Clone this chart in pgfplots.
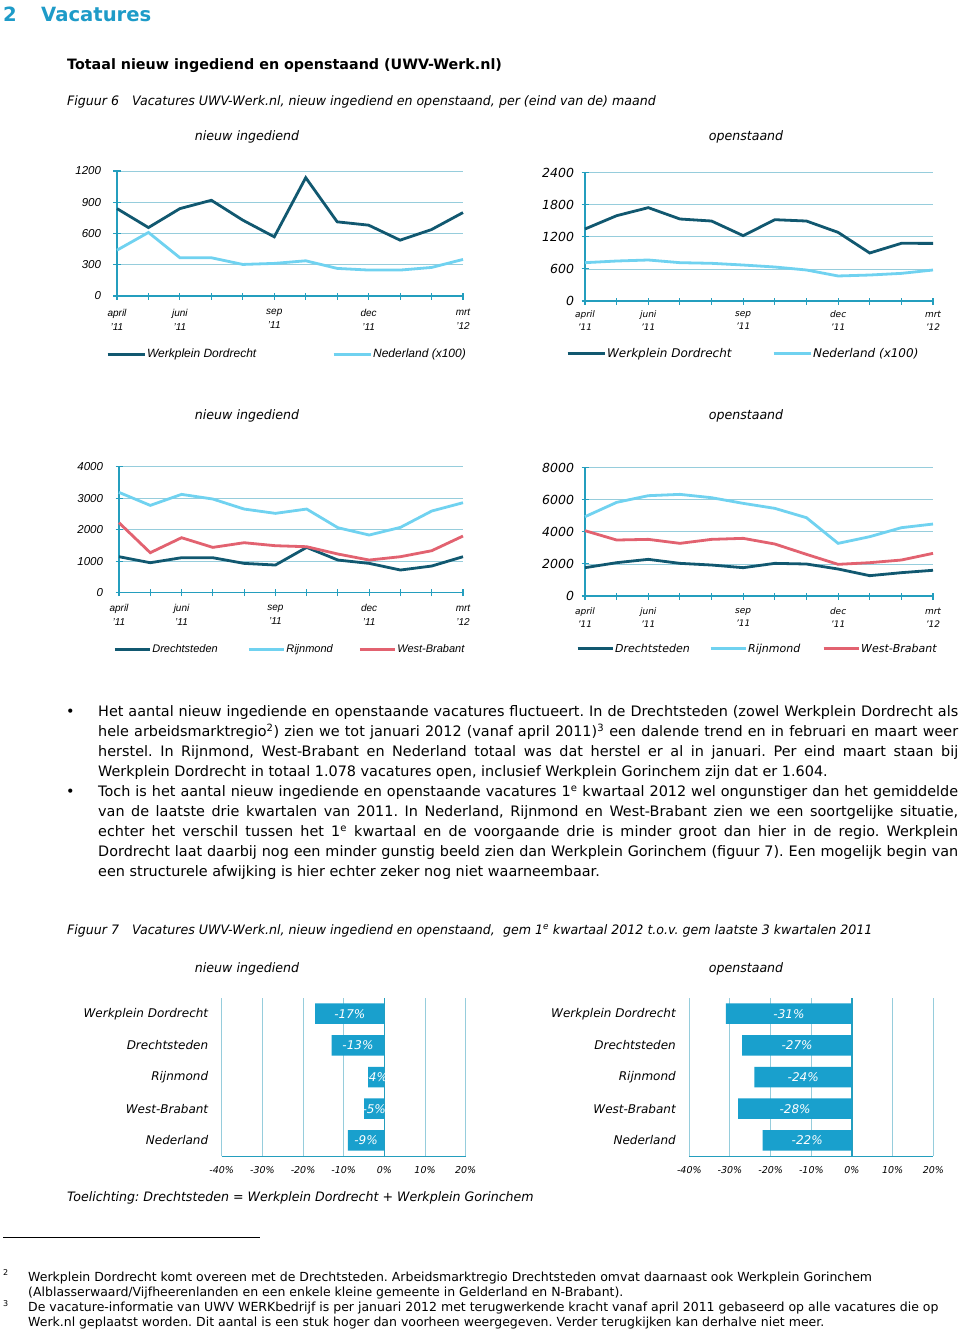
\documentclass[border=0pt]{standalone}
\usepackage{fontspec}
\setmainfont{DejaVu Sans}
\newfontfamily\tahoma[FakeStretch=0.97]{DejaVu Sans}
\newfontfamily\arial{Liberation Sans}
\usepackage{pgfplots}
\pgfplotsset{compat=1.18}
\frenchspacing
\definecolor{dk}{RGB}{17,88,112}
\definecolor{lt}{RGB}{112,210,240}
\definecolor{rd}{RGB}{226,98,112}
\definecolor{axc}{RGB}{36,158,190}
\definecolor{gridc}{RGB}{150,205,220}
\definecolor{barc}{RGB}{25,160,205}
\definecolor{headc}{RGB}{30,155,200}
\pgfplotsset{
 linechart/.style={
  scale only axis, xmin=0, xmax=11, ymin=0, enlargelimits=false,
  axis x line*=bottom, axis y line*=left,
  axis line style={axc, line width=1.3pt},
  xtick={0,...,11},
  tick style={axc, line width=1.1pt}, major tick length=7pt, tick align=center,
  ymajorgrids, grid style={gridc, line width=0.8pt},
  clip=false,
  legend columns=-1,
  legend cell align=left,
  legend image code/.code={\draw[##1, line width=3pt] (0pt,0pt) -- (37pt,0pt);},
 },
 barchart/.style={
  scale only axis, width=244pt, height=158.3pt,
  xmin=-40, xmax=20, ymin=-0.5, ymax=4.5, enlargelimits=false,
  xtick={-40,-30,-20,-10,0,10,20},
  xticklabels={-40\%,-30\%,-20\%,-10\%,0\%,10\%,20\%},
  xticklabel style={font=\itshape\fontsize{9.5}{11}\selectfont, yshift=-7pt},
  ytick={0,1,2,3,4},
  yticklabels={Nederland,West-Brabant,Rijnmond,Drechtsteden,Werkplein Dordrecht},
  yticklabel style={font=\itshape\fontsize{12}{14}\selectfont, xshift=-10pt},
  xmajorgrids, grid style={gridc, line width=1pt},
  axis x line*=bottom, axis y line*=left,
  x axis line style={axc, line width=1.3pt},
  y axis line style={draw=none},
  tick style={draw=none},
  extra x ticks={0}, extra x tick labels={},
  extra x tick style={grid style={axc, line width=1.3pt}},
  clip=false,
 },
}
\tikzset{dkl/.style={dk, line width=2.8pt}, ltl/.style={lt, line width=2.8pt}, rdl/.style={rd, line width=2.8pt}}
\begin{document}
\begin{tikzpicture}
\fill[white] (0pt,0pt) rectangle (960pt,-1330pt);
\path[use as bounding box] (0pt,0pt) rectangle (960pt,-1330pt);

% Titles
\node[anchor=base west, inner sep=0pt, text=headc, font=\bfseries\fontsize{19.6}{21}\selectfont] at (3pt,-21.5pt) {2};
\node[anchor=base west, inner sep=0pt, text=headc, font=\bfseries\fontsize{19.6}{21}\selectfont] at (41pt,-21.5pt) {Vacatures};
\node[anchor=base west, inner sep=0pt, font=\bfseries\fontsize{14.3}{16}\selectfont] at (67pt,-70pt) {Totaal nieuw ingediend en openstaand (UWV-Werk.nl)};
\node[anchor=base west, inner sep=0pt, font=\tahoma\itshape\fontsize{13}{16}\selectfont] at (67pt,-105pt) {Figuur 6};
\node[anchor=base west, inner sep=0pt, font=\tahoma\itshape\fontsize{13}{16}\selectfont] at (132pt,-105pt) {Vacatures UWV-Werk.nl, nieuw ingediend en openstaand, per (eind van de) maand};

\node[anchor=base, inner sep=0pt, font=\tahoma\itshape\fontsize{13}{16}\selectfont] at (247pt,-140pt) {nieuw ingediend};
\node[anchor=base, inner sep=0pt, font=\tahoma\itshape\fontsize{13}{16}\selectfont] at (746pt,-140pt) {openstaand};
\node[anchor=base, inner sep=0pt, font=\tahoma\itshape\fontsize{13}{16}\selectfont] at (247pt,-419pt) {nieuw ingediend};
\node[anchor=base, inner sep=0pt, font=\tahoma\itshape\fontsize{13}{16}\selectfont] at (746pt,-419pt) {openstaand};

% Chart 1
\begin{axis}[linechart, at={(117pt,-296pt)}, anchor=south west, width=346pt, height=125pt,
  ymax=1200, ytick={0,300,600,900,1200}, yticklabels={0,300,600,900,1200},
  yticklabel style={font=\arial\itshape\fontsize{11.5}{12}\selectfont, xshift=-9pt},
  xticklabels={{april\\’11},{},{juni\\’11},{},{},{sep\\’11},{},{},{dec\\’11},{},{},{mrt\\’12}},
  xticklabel style={font=\arial\itshape\fontsize{10}{14}\selectfont, align=center, yshift=-6pt},
  legend style={at={(-0.032,-0.464)}, anchor=west, draw=none, fill=none, inner sep=0pt, column sep=0pt,
    nodes={inner sep=1pt}, font=\arial\itshape\fontsize{12}{14}\selectfont}]
\addplot[dkl] coordinates {(0,839)(1,657)(2,839)(3,919)(4,728)(5,568)(6,1136)(7,712)(8,680)(9,536)(10,638)(11,801)};
\addlegendentry{\makebox[184pt][l]{Werkplein Dordrecht}}
\addplot[ltl] coordinates {(0,440)(1,610)(2,367)(3,367)(4,303)(5,313)(6,338)(7,265)(8,249)(9,249)(10,274)(11,351)};
\addlegendentry{Nederland (x100)}
\end{axis}

% Chart 2
\begin{axis}[linechart, at={(585pt,-301pt)}, anchor=south west, width=348pt, height=128.3pt,
  ymax=2400, ytick={0,600,1200,1800,2400}, yticklabels={0,600,1200,1800,2400},
  yticklabel style={font=\itshape\fontsize{12.5}{14}\selectfont, xshift=-4pt},
  xticklabels={{april\\’11},{},{juni\\’11},{},{},{sep\\’11},{},{},{dec\\’11},{},{},{mrt\\’12}},
  xticklabel style={font=\itshape\fontsize{9}{13}\selectfont, align=center, yshift=-3pt},
  legend style={at={(-0.055,-0.413)}, anchor=west, draw=none, fill=none, inner sep=0pt, column sep=0pt,
    nodes={inner sep=1pt}, font=\itshape\fontsize{12}{14}\selectfont}]
\addplot[dkl] coordinates {(0,1347)(1,1596)(2,1746)(3,1534)(4,1496)(5,1222)(6,1521)(7,1496)(8,1284)(9,898)(10,1079)(11,1078)};
\addlegendentry{\makebox[164pt][l]{Werkplein Dordrecht}}
\addplot[ltl] coordinates {(0,717)(1,748)(2,767)(3,717)(4,705)(5,673)(6,636)(7,580)(8,468)(9,486)(10,517)(11,580)};
\addlegendentry{Nederland (x100)}
\end{axis}

% Chart 3
\begin{axis}[linechart, at={(119pt,-592.7pt)}, anchor=south west, width=344pt, height=126pt,
  ymax=4000, ytick={0,1000,2000,3000,4000}, yticklabels={0,1000,2000,3000,4000},
  yticklabel style={font=\arial\itshape\fontsize{11.5}{12}\selectfont, xshift=-9pt},
  xticklabels={{april\\’11},{},{juni\\’11},{},{},{sep\\’11},{},{},{dec\\’11},{},{},{mrt\\’12}},
  xticklabel style={font=\arial\itshape\fontsize{10}{14}\selectfont, align=center, yshift=-5pt},
  legend image code/.code={\draw[#1, line width=3pt] (0pt,0pt) -- (35pt,0pt);},
  legend style={at={(-0.017,-0.447)}, anchor=west, draw=none, fill=none, inner sep=0pt, column sep=0pt,
    nodes={inner sep=1pt}, font=\arial\itshape\fontsize{11}{14}\selectfont}]
\addplot[dkl] coordinates {(0,1143)(1,952)(2,1111)(3,1111)(4,931)(5,878)(6,1439)(7,1037)(8,931)(9,720)(10,847)(11,1143)};
\addlegendentry{\makebox[94pt][l]{Drechtsteden}}
\addplot[ltl] coordinates {(0,3185)(1,2772)(2,3122)(3,2974)(4,2656)(5,2519)(6,2656)(7,2063)(8,1831)(9,2074)(10,2593)(11,2857)};
\addlegendentry{\makebox[71pt][l]{Rijnmond}}
\addplot[rdl] coordinates {(0,2222)(1,1270)(2,1746)(3,1439)(4,1587)(5,1492)(6,1460)(7,1228)(8,1037)(9,1143)(10,1333)(11,1799)};
\addlegendentry{West-Brabant}
\end{axis}

% Chart 4
\begin{axis}[linechart, at={(585pt,-596pt)}, anchor=south west, width=348pt, height=128.3pt,
  ymax=8000, ytick={0,2000,4000,6000,8000}, yticklabels={0,2000,4000,6000,8000},
  yticklabel style={font=\itshape\fontsize{12.5}{14}\selectfont, xshift=-4pt},
  xticklabels={{april\\’11},{},{juni\\’11},{},{},{sep\\’11},{},{},{dec\\’11},{},{},{mrt\\’12}},
  xticklabel style={font=\itshape\fontsize{9}{13}\selectfont, align=center, yshift=-5pt},
  legend image code/.code={\draw[#1, line width=3pt] (0pt,0pt) -- (35pt,0pt);},
  legend style={at={(-0.026,-0.413)}, anchor=west, draw=none, fill=none, inner sep=0pt, column sep=0pt,
    nodes={inner sep=1pt}, font=\itshape\fontsize{11}{14}\selectfont}]
\addplot[dkl] coordinates {(0,1766)(1,2078)(2,2286)(3,2036)(4,1932)(5,1766)(6,2036)(7,1995)(8,1683)(9,1268)(10,1455)(11,1604)};
\addlegendentry{\makebox[93pt][l]{Drechtsteden}}
\addplot[ltl] coordinates {(0,4945)(1,5839)(2,6255)(3,6338)(4,6130)(5,5777)(6,5465)(7,4883)(8,3283)(9,3699)(10,4260)(11,4488)};
\addlegendentry{\makebox[73pt][l]{Rijnmond}}
\addplot[rdl] coordinates {(0,4073)(1,3491)(2,3532)(3,3283)(4,3532)(5,3595)(6,3242)(7,2597)(8,1974)(9,2078)(10,2244)(11,2660)};
\addlegendentry{West-Brabant}
\end{axis}

% Body text
\begin{scope}[every node/.style={anchor=base west, inner sep=0pt, font=\fontsize{14.4}{16}\selectfont}]
\node at (66pt,-716.5pt) {•};
\node at (98pt,-716.5pt) {\makebox[860pt][s]{Het aantal nieuw ingediende en openstaande vacatures fluctueert. In de Drechtsteden (zowel Werkplein Dordrecht als}};
\node at (98pt,-736.5pt) {\makebox[860pt][s]{hele arbeidsmarktregio\textsuperscript{2}) zien we tot januari 2012 (vanaf april 2011)\textsuperscript{3} een dalende trend en in februari en maart weer}};
\node at (98pt,-756.5pt) {\makebox[860pt][s]{herstel. In Rijnmond, West-Brabant en Nederland totaal was dat herstel er al in januari. Per eind maart staan bij}};
\node at (98pt,-776.5pt) {Werkplein Dordrecht in totaal 1.078 vacatures open, inclusief Werkplein Gorinchem zijn dat er 1.604.};
\node at (66pt,-796.5pt) {•};
\node at (98pt,-796.5pt) {\makebox[860pt][s]{Toch is het aantal nieuw ingediende en openstaande vacatures 1\textsuperscript{e} kwartaal 2012 wel ongunstiger dan het gemiddelde}};
\node at (98pt,-816.5pt) {\makebox[860pt][s]{van de laatste drie kwartalen van 2011. In Nederland, Rijnmond en West-Brabant zien we een soortgelijke situatie,}};
\node at (98pt,-836.5pt) {\makebox[860pt][s]{echter het verschil tussen het 1\textsuperscript{e} kwartaal en de voorgaande drie is minder groot dan hier in de regio. Werkplein}};
\node at (98pt,-856.5pt) {\makebox[860pt][s]{Dordrecht laat daarbij nog een minder gunstig beeld zien dan Werkplein Gorinchem (figuur 7). Een mogelijk begin van}};
\node at (98pt,-876.5pt) {een structurele afwijking is hier echter zeker nog niet waarneembaar.};
\end{scope}

\node[anchor=base west, inner sep=0pt, font=\tahoma\itshape\fontsize{13}{16}\selectfont] at (67pt,-934pt) {Figuur 7};
\node[anchor=base west, inner sep=0pt, font=\tahoma\itshape\fontsize{13}{16}\selectfont] at (132pt,-934pt) {Vacatures UWV-Werk.nl, nieuw ingediend en openstaand, \ gem 1\textsuperscript{e} kwartaal 2012 t.o.v. gem laatste 3 kwartalen 2011};
\node[anchor=base, inner sep=0pt, font=\tahoma\itshape\fontsize{13}{16}\selectfont] at (247pt,-972pt) {nieuw ingediend};
\node[anchor=base, inner sep=0pt, font=\tahoma\itshape\fontsize{13}{16}\selectfont] at (746pt,-972pt) {openstaand};

% Bar chart left
\begin{axis}[barchart, at={(221.7pt,-1156.2pt)}, anchor=south west]
\addplot[xbar, bar width=20.5pt, bar shift=0pt, fill=barc, draw=none] coordinates {(-9,0)(-5,1)(-4,2)(-13,3)(-17,4)};
\addplot[draw=none, mark=none, nodes near coords, point meta=explicit symbolic, nodes near coords align={center},
  nodes near coords style={text=white, font=\itshape\fontsize{12}{14}\selectfont}]
  coordinates {(-4.5,0)[-9\%] (-2.5,1)[-5\%] (-2,2)[-4\%] (-6.5,3)[-13\%] (-8.5,4)[-17\%]};
\end{axis}

% Bar chart right
\begin{axis}[barchart, at={(689.3pt,-1156.2pt)}, anchor=south west]
\addplot[xbar, bar width=20.5pt, bar shift=0pt, fill=barc, draw=none] coordinates {(-22,0)(-28,1)(-24,2)(-27,3)(-31,4)};
\addplot[draw=none, mark=none, nodes near coords, point meta=explicit symbolic, nodes near coords align={center},
  nodes near coords style={text=white, font=\itshape\fontsize{12}{14}\selectfont}]
  coordinates {(-11,0)[-22\%] (-14,1)[-28\%] (-12,2)[-24\%] (-13.5,3)[-27\%] (-15.5,4)[-31\%]};
\end{axis}

\node[anchor=base west, inner sep=0pt, font=\tahoma\itshape\fontsize{13}{16}\selectfont] at (67pt,-1201pt) {Toelichting: Drechtsteden = Werkplein Dordrecht + Werkplein Gorinchem};

\draw[black, line width=0.6pt] (3pt,-1237pt) -- (260pt,-1237pt);

\begin{scope}[every node/.style={anchor=base west, inner sep=0pt, font=\fontsize{12.5}{15}\selectfont}]
\node[font=\fontsize{8}{9}\selectfont] at (3pt,-1275pt) {2};
\node at (28pt,-1281pt) {Werkplein Dordrecht komt overeen met de Drechtsteden. Arbeidsmarktregio Drechtsteden omvat daarnaast ook Werkplein Gorinchem};
\node at (28pt,-1296pt) {(Alblasserwaard/Vijfheerenlanden en een enkele kleine gemeente in Gelderland en N-Brabant).};
\node[font=\fontsize{8}{9}\selectfont] at (3pt,-1306pt) {3};
\node at (28pt,-1311pt) {De vacature-informatie van UWV WERKbedrijf is per januari 2012 met terugwerkende kracht vanaf april 2011 gebaseerd op alle vacatures die op};
\node at (28pt,-1326pt) {Werk.nl geplaatst worden. Dit aantal is een stuk hoger dan voorheen weergegeven. Verder terugkijken kan derhalve niet meer.};
\end{scope}
\end{tikzpicture}
\end{document}
